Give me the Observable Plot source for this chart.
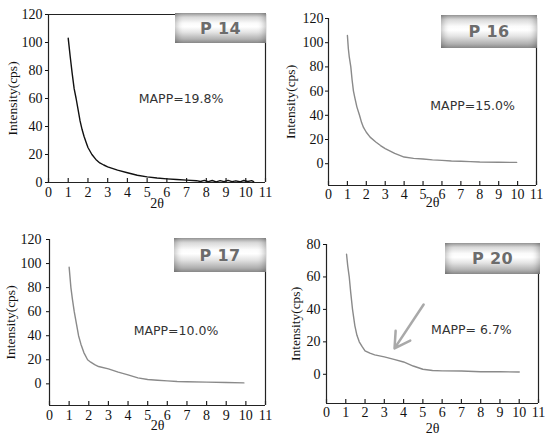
<!DOCTYPE html>
<html><head><meta charset="utf-8">
<script src="https://cdn.jsdelivr.net/npm/d3@7"></script>
<script src="https://cdn.jsdelivr.net/npm/@observablehq/plot@0.6"></script>
<style>
html,body{margin:0;padding:0;background:#fff;}
#chart{position:relative;width:546px;height:440px;overflow:hidden;background:#fff;}
#chart svg{position:absolute;}
#chart svg text{font-family:"Liberation Serif","Times New Roman",serif;}
.badge{position:absolute;box-sizing:border-box;display:flex;align-items:center;justify-content:center;
  font:bold 16px "DejaVu Sans",sans-serif;color:#6c6c6c;letter-spacing:0.3px;
  text-shadow:0 0 1px #fff;
  background:linear-gradient(to bottom,#9c9c9c 0%,#d9d9d9 14%,#fbfbfb 34%,#ffffff 46%,#e4e4e4 64%,#b4b4b4 86%,#8e8e8e 100%);
  box-shadow:inset 6px 0 6px -4px rgba(0,0,0,0.25), inset -6px 0 6px -4px rgba(0,0,0,0.25);}
</style></head><body><div id="chart"></div>
<script>
// ---- data ----
const xTicks = [0,1,2,3,4,5,6,7,8,9,10,11];
const yTicks120 = [0,20,40,60,80,100,120];
const yTicks80 = [0,20,40,60,80];
const sampleNames = ["P 14","P 16","P 17","P 20"];
const mappLabels = ["MAPP=19.8%","MAPP=15.0%","MAPP=10.0%","MAPP= 6.7%"];

const p14Theta = [1.0,1.1,1.2,1.3,1.4,1.5,1.6,1.7,1.8,1.9,2.0,2.2,2.4,2.6,2.8,3.0,3.5,4.0,4.5,5.0,5.5,6.0,6.5,7.0,7.5,7.7,7.9,8.1,8.3,8.5,8.7,8.9,9.1,9.3,9.5,9.7,9.9,10.1,10.3,10.4];
const p14Intensity = [103,90,78,67,60,52,44,38,33,29,25,20,16.5,14,12.5,11.2,8.8,7,5.2,4,3.2,2.6,2.1,1.7,1.3,0.7,1.5,0.6,1.4,0.5,1.3,0.6,1.5,0.6,1.2,0.5,1.4,0.7,1.3,0.6];

const p16Theta = [1.0,1.05,1.1,1.18,1.25,1.32,1.4,1.5,1.64,1.75,1.85,2.0,2.2,2.5,2.75,3.0,3.5,4.0,4.5,5.0,5.5,6.0,6.5,7.0,7.5,8.0,9.0,9.95];
const p16Intensity = [106,95,88,80,69,60,54,47,40,34,30,26,22,18,15,12.5,8.5,5.5,4.4,3.9,3.2,2.8,2.3,2.0,1.7,1.4,1.2,1.1];

const p17Theta = [1.0,1.09,1.17,1.26,1.37,1.48,1.6,1.75,1.94,2.1,2.3,2.5,3.0,3.5,4.0,4.5,5.0,5.5,6.0,6.5,7.0,8.0,9.0,9.9];
const p17Intensity = [97,80,70,60,50,40,33,26,20,18,16,14.4,12.5,9.7,7.5,5,3.6,3,2.5,2,1.7,1.4,1.1,0.8];

const p20Theta = [1.04,1.1,1.18,1.26,1.35,1.47,1.58,1.7,1.85,2.0,2.25,2.5,3.0,3.5,4.0,4.5,5.0,5.5,6.0,7.0,8.0,9.0,10.0];
const p20Intensity = [74,67,60,50,40,30,24,20,17,14.4,13,12,10.7,9.2,7.6,5.1,3.1,2.3,2.1,2.0,1.6,1.6,1.4];

const arrowTheta = [5.04, 3.53];
const arrowIntensity = [43, 16];

// ---- layout ----
const panels = [
  {name:sampleNames[0], mapp:mappLabels[0], theta:p14Theta, intensity:p14Intensity, color:"#111",
   left:0, top:0, width:273, height:210, mt:14, mb:28, ml:48, mr:8, yDomain:[0,120], yTicks:yTicks120,
   yPad:3, xPad:5, yLabelDx:-36, thetaDy:21, mappX:6.72, mappY:60, topLine:true,
   badge:{left:175,top:13,width:91,height:30}},
  {name:sampleNames[1], mapp:mappLabels[1], theta:p16Theta, intensity:p16Intensity, color:"#8a8a8a",
   left:273, top:0, width:273, height:215, mt:18, mb:30, ml:55, mr:10, yDomain:[-18,120], yTicks:yTicks120,
   yPad:2, xPad:4, yLabelDx:-38, thetaDy:17, mappX:7.62, mappY:48,
   badge:{left:441,top:15,width:96,height:33}},
  {name:sampleNames[2], mapp:mappLabels[2], theta:p17Theta, intensity:p17Intensity, color:"#8a8a8a",
   left:0, top:220, width:273, height:220, mt:19, mb:35, ml:49, mr:8, yDomain:[-18,120], yTicks:yTicks120,
   yPad:5, xPad:5, yLabelDx:-39, thetaDy:20, mappX:6.44, mappY:44.3,
   badge:{left:174,top:238,width:92,height:34}},
  {name:sampleNames[3], mapp:mappLabels[3], theta:p20Theta, intensity:p20Intensity, color:"#8a8a8a",
   left:273, top:220, width:273, height:220, mt:24, mb:37, ml:53, mr:8, yDomain:[-18,80], yTicks:yTicks80,
   yPad:3, xPad:4, yLabelDx:-31, thetaDy:25, mappX:7.52, mappY:27, arrow:true,
   badge:{left:445,top:243,width:95,height:31}}
];

const chart = document.getElementById("chart");

for (const p of panels) {
  const data = p.theta.map((t,i)=>({theta:t, intensity:p.intensity[i]}));
  const plotH = p.height - p.mt - p.mb;
  const unit = (p.yDomain[1]-p.yDomain[0]) / plotH;
  const yMin = p.yDomain[0];
  const marks = [
    Plot.ruleX([0, 11], {stroke:"#222", strokeWidth:1.2}),
    Plot.ruleY([yMin], {stroke:"#222", strokeWidth:1.2}),
    Plot.ruleX(xTicks, {x:d=>d, y1:yMin, y2:yMin + 4*unit, stroke:"#222", strokeWidth:1.2}),
    Plot.axisX({ticks:xTicks, tickSize:0, tickPadding:p.xPad, label:null, tickFormat:d=>String(d), fontSize:14}),
    Plot.axisY({ticks:p.yTicks, tickSize:3, tickPadding:p.yPad, label:null, tickFormat:d=>String(d), fontSize:14}),
    Plot.line(data, {x:"theta", y:"intensity", stroke:p.color, strokeWidth:1.4}),
    Plot.text([p.mapp], {x:()=>p.mappX, y:()=>p.mappY, text:d=>d, fontSize:12.5, fill:"#333"}),
    Plot.text(["Intensity(cps)"], {frameAnchor:"left", dx:p.yLabelDx, rotate:-90, textAnchor:"middle", lineAnchor:"middle", fontSize:13.5, fill:"#111"}),
    Plot.text(["2θ"], {frameAnchor:"bottom", dy:p.thetaDy, textAnchor:"middle", lineAnchor:"middle", fontSize:14, fill:"#111"})
  ];
  if (p.topLine) marks.push(Plot.ruleY([p.yDomain[1]], {stroke:"#222", strokeWidth:1.2}));
  if (p.arrow) marks.push(Plot.arrow([0], {x1:()=>arrowTheta[0], y1:()=>arrowIntensity[0], x2:()=>arrowTheta[1], y2:()=>arrowIntensity[1], stroke:"#a9a9a9", strokeWidth:2.5, headLength:11}));
  const svg = Plot.plot({
    width:p.width, height:p.height,
    marginTop:p.mt, marginBottom:p.mb, marginLeft:p.ml, marginRight:p.mr,
    x:{domain:[0,11]}, y:{domain:p.yDomain},
    style:{fontSize:"14px", color:"#111", background:"transparent", overflow:"visible"},
    marks
  });
  svg.style.left = p.left + "px";
  svg.style.top = p.top + "px";
  // MAPP annotation uses a sans font like the reference
  d3.select(svg).selectAll("text").filter(function(){ return /MAPP/.test(this.textContent); })
    .style("font-family", '"DejaVu Sans", sans-serif');
  chart.appendChild(svg);
  const b = document.createElement("div");
  b.className = "badge";
  b.textContent = p.name;
  b.style.left = p.badge.left + "px";
  b.style.top = p.badge.top + "px";
  b.style.width = p.badge.width + "px";
  b.style.height = p.badge.height + "px";
  chart.appendChild(b);
}
</script>
</body></html>
